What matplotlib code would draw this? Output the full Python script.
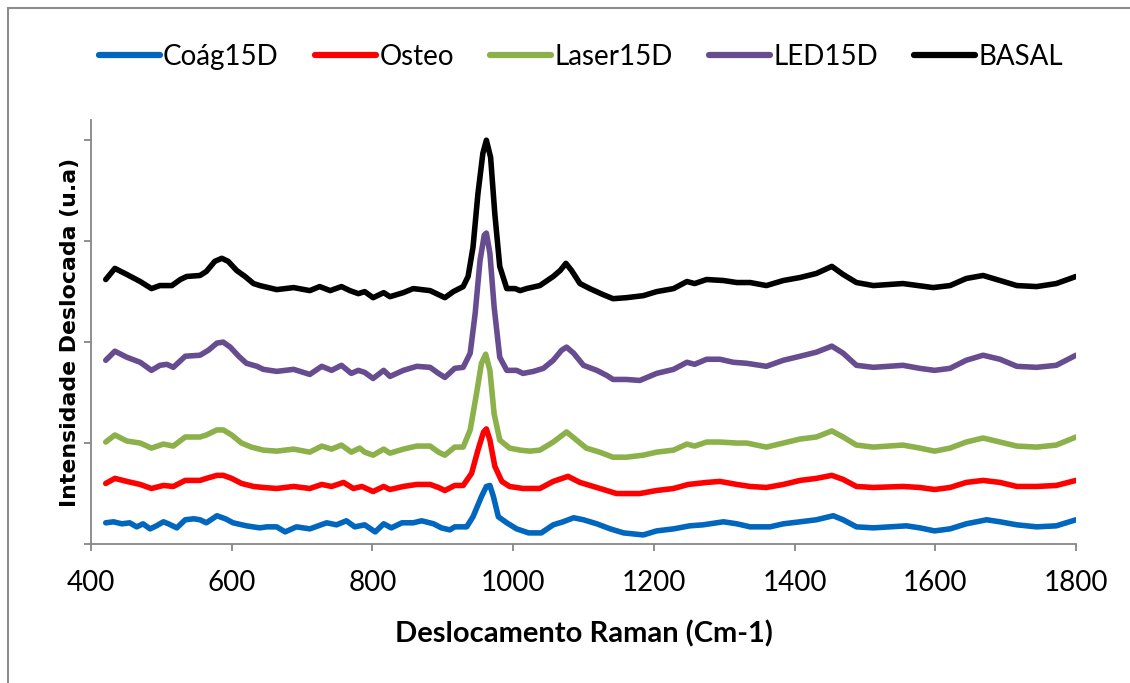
import matplotlib.pyplot as plt
from matplotlib.patches import Rectangle

# Raman spectra, (wavenumber, stacked intensity) pairs
coag15d = [(421, 0.21), (432, 0.22), (444, 0.20), (455, 0.21), (465, 0.17), (474, 0.20), (484, 0.15),
           (493, 0.18), (503, 0.22), (510, 0.20), (522, 0.16), (534, 0.24), (546, 0.25), (555, 0.24),
           (564, 0.21), (579, 0.28), (591, 0.25), (602, 0.21), (621, 0.18), (640, 0.16), (650, 0.17),
           (664, 0.17), (676, 0.12), (692, 0.17), (711, 0.15), (735, 0.21), (749, 0.19), (763, 0.23),
           (775, 0.17), (789, 0.19), (804, 0.12), (816, 0.20), (827, 0.16), (842, 0.21), (858, 0.21),
           (870, 0.23), (887, 0.20), (898, 0.16), (910, 0.14), (917, 0.17), (934, 0.17), (943, 0.27),
           (955, 0.47), (962, 0.57), (967, 0.58), (972, 0.47), (979, 0.27), (991, 0.21), (1005, 0.15),
           (1022, 0.11), (1040, 0.11), (1057, 0.19), (1071, 0.22), (1086, 0.26), (1100, 0.24),
           (1119, 0.20), (1138, 0.15), (1157, 0.11), (1185, 0.09), (1204, 0.13), (1228, 0.15),
           (1251, 0.18), (1270, 0.19), (1299, 0.22), (1318, 0.20), (1337, 0.17), (1365, 0.17),
           (1384, 0.20), (1408, 0.22), (1431, 0.24), (1455, 0.28), (1469, 0.24), (1488, 0.17),
           (1512, 0.16), (1559, 0.18), (1578, 0.16), (1599, 0.13), (1621, 0.15), (1644, 0.20),
           (1673, 0.24), (1692, 0.22), (1716, 0.19), (1744, 0.17), (1772, 0.18), (1800, 0.24)]

osteo = [(421, 0.60), (434, 0.65), (451, 0.62), (470, 0.59), (486, 0.55), (503, 0.58), (517, 0.57),
         (534, 0.63), (555, 0.63), (564, 0.65), (579, 0.68), (588, 0.68), (600, 0.65), (614, 0.60),
         (631, 0.57), (645, 0.56), (664, 0.55), (688, 0.57), (711, 0.55), (728, 0.59), (742, 0.57),
         (759, 0.61), (773, 0.55), (785, 0.57), (801, 0.52), (816, 0.57), (825, 0.54), (844, 0.57),
         (863, 0.59), (882, 0.59), (894, 0.56), (903, 0.53), (917, 0.58), (929, 0.58), (941, 0.70),
         (950, 0.93), (958, 1.11), (962, 1.14), (967, 1.03), (974, 0.77), (984, 0.62), (995, 0.57),
         (1014, 0.55), (1038, 0.55), (1057, 0.62), (1078, 0.67), (1095, 0.61), (1114, 0.57),
         (1133, 0.53), (1147, 0.50), (1180, 0.50), (1204, 0.53), (1228, 0.55), (1249, 0.59),
         (1275, 0.61), (1294, 0.62), (1318, 0.59), (1337, 0.57), (1360, 0.56), (1384, 0.59),
         (1408, 0.63), (1431, 0.65), (1453, 0.68), (1469, 0.64), (1488, 0.57), (1512, 0.56),
         (1554, 0.57), (1578, 0.56), (1599, 0.54), (1621, 0.56), (1644, 0.61), (1668, 0.63),
         (1692, 0.61), (1716, 0.57), (1744, 0.57), (1772, 0.58), (1800, 0.63)]

laser15d = [(421, 1.01), (434, 1.08), (451, 1.02), (470, 1.00), (486, 0.95), (503, 0.99), (517, 0.97),
            (534, 1.06), (555, 1.06), (564, 1.08), (579, 1.13), (588, 1.13), (600, 1.08), (614, 1.00),
            (628, 0.96), (645, 0.93), (664, 0.92), (688, 0.94), (711, 0.91), (728, 0.97), (742, 0.94),
            (756, 0.98), (770, 0.91), (782, 0.95), (789, 0.91), (801, 0.88), (816, 0.94), (825, 0.90),
            (844, 0.94), (863, 0.97), (882, 0.97), (894, 0.91), (903, 0.88), (917, 0.96), (929, 0.96),
            (939, 1.13), (948, 1.49), (955, 1.79), (961, 1.88), (967, 1.72), (973, 1.29), (981, 1.03),
            (995, 0.95), (1010, 0.93), (1024, 0.92), (1038, 0.93), (1057, 1.01), (1076, 1.11),
            (1090, 1.03), (1104, 0.95), (1123, 0.91), (1142, 0.86), (1161, 0.86), (1185, 0.88),
            (1204, 0.91), (1228, 0.93), (1247, 0.99), (1258, 0.97), (1275, 1.01), (1294, 1.01),
            (1318, 1.00), (1332, 1.00), (1360, 0.96), (1384, 1.00), (1408, 1.04), (1431, 1.06),
            (1453, 1.12), (1469, 1.06), (1488, 0.98), (1512, 0.96), (1554, 0.98), (1578, 0.95),
            (1599, 0.92), (1621, 0.95), (1644, 1.01), (1668, 1.05), (1692, 1.01), (1716, 0.97),
            (1744, 0.96), (1772, 0.98), (1800, 1.06)]

led15d = [(421, 1.82), (434, 1.91), (451, 1.85), (470, 1.80), (486, 1.72), (498, 1.77), (508, 1.78),
          (517, 1.75), (534, 1.86), (555, 1.87), (567, 1.92), (579, 1.99), (588, 2.00), (598, 1.95),
          (610, 1.86), (621, 1.79), (636, 1.76), (645, 1.73), (664, 1.71), (688, 1.73), (711, 1.68),
          (728, 1.76), (742, 1.72), (756, 1.77), (770, 1.69), (780, 1.72), (789, 1.70), (801, 1.64),
          (816, 1.72), (825, 1.66), (844, 1.72), (863, 1.76), (882, 1.75), (894, 1.69), (903, 1.65),
          (917, 1.74), (929, 1.75), (939, 1.89), (946, 2.28), (953, 2.81), (959, 3.06), (962, 3.08),
          (967, 2.88), (973, 2.35), (981, 1.85), (991, 1.72), (1005, 1.72), (1014, 1.69), (1029, 1.71),
          (1043, 1.74), (1057, 1.82), (1069, 1.92), (1076, 1.95), (1086, 1.89), (1100, 1.77),
          (1119, 1.72), (1133, 1.67), (1142, 1.63), (1161, 1.63), (1180, 1.62), (1204, 1.69),
          (1228, 1.73), (1247, 1.80), (1258, 1.78), (1275, 1.83), (1294, 1.83), (1313, 1.80),
          (1332, 1.79), (1360, 1.76), (1384, 1.82), (1408, 1.86), (1431, 1.90), (1453, 1.96),
          (1469, 1.89), (1488, 1.77), (1512, 1.75), (1554, 1.77), (1578, 1.74), (1599, 1.72),
          (1621, 1.74), (1644, 1.82), (1668, 1.87), (1692, 1.83), (1716, 1.76), (1744, 1.75),
          (1772, 1.77), (1800, 1.87)]

basal = [(421, 2.62), (434, 2.73), (451, 2.67), (470, 2.60), (486, 2.53), (498, 2.56), (515, 2.56),
         (527, 2.62), (536, 2.65), (555, 2.66), (564, 2.70), (576, 2.80), (586, 2.83), (595, 2.80),
         (607, 2.71), (619, 2.65), (631, 2.58), (640, 2.56), (664, 2.52), (688, 2.54), (711, 2.51),
         (725, 2.55), (740, 2.51), (756, 2.55), (768, 2.51), (780, 2.48), (789, 2.50), (801, 2.44),
         (816, 2.49), (825, 2.45), (844, 2.49), (858, 2.53), (882, 2.51), (894, 2.47), (903, 2.44),
         (915, 2.50), (929, 2.55), (936, 2.65), (943, 2.94), (950, 3.47), (957, 3.87), (962, 4.00),
         (968, 3.83), (974, 3.27), (981, 2.75), (991, 2.53), (1003, 2.53), (1010, 2.51), (1019, 2.53),
         (1038, 2.56), (1057, 2.65), (1067, 2.71), (1075, 2.78), (1083, 2.71), (1095, 2.58),
         (1109, 2.53), (1128, 2.47), (1142, 2.43), (1161, 2.44), (1185, 2.46), (1204, 2.50),
         (1228, 2.53), (1247, 2.60), (1258, 2.58), (1275, 2.62), (1299, 2.61), (1318, 2.59),
         (1337, 2.59), (1360, 2.56), (1384, 2.61), (1408, 2.64), (1431, 2.68), (1453, 2.75),
         (1469, 2.67), (1488, 2.59), (1512, 2.56), (1554, 2.58), (1597, 2.54), (1621, 2.56),
         (1644, 2.63), (1668, 2.66), (1692, 2.61), (1716, 2.56), (1744, 2.55), (1772, 2.58),
         (1800, 2.65)]

series_names = ['Coág15D', 'Osteo', 'Laser15D', 'LED15D', 'BASAL']
series_data = [coag15d, osteo, laser15d, led15d, basal]
colors = ['#0066BE', '#FF0000', '#8CB04A', '#674C8F', '#000000']

fig = plt.figure(figsize=(11.3, 6.83), dpi=100)
ax = fig.add_axes([0.0805, 0.2035, 0.8717, 0.6208])

for name, data, color in zip(series_names, series_data, colors):
    xs, ys = zip(*data)
    ax.plot(xs, ys, color=color, lw=4.0, label=name,
            solid_joinstyle='round', solid_capstyle='round')

ax.set_xlim(400, 1800)
ax.set_ylim(0, 4.2)
ax.set_xticks(range(400, 1801, 200))
ax.set_yticks([0, 1, 2, 3, 4])
ax.set_yticklabels([])

for side in ['top', 'right']:
    ax.spines[side].set_visible(False)
for side in ['left', 'bottom']:
    ax.spines[side].set_color('#868686')
    ax.spines[side].set_linewidth(1.3)
ax.tick_params(axis='both', direction='out', length=5, width=1.3, color='#868686')
ax.tick_params(axis='x', labelsize=20, pad=14)
for lbl in ax.get_xticklabels():
    lbl.set_family('Lato')

fig.text(584 / 1130, 1 - 634 / 683, 'Deslocamento Raman (Cm-1)', ha='center', va='center',
         fontsize=21, fontweight='bold', family='Lato')
fig.text(70 / 1130, 1 - 332 / 683, 'Intensidade Deslocada (u.a)', ha='center', va='center',
         rotation=90, fontsize=15.8, fontweight='bold', family='DejaVu Sans')

leg = fig.legend(loc='center', bbox_to_anchor=(581 / 1130, 1 - 57 / 683), ncol=5, frameon=False,
                 prop={'family': 'Lato', 'size': 20}, handlelength=2.2, handletextpad=0.12,
                 columnspacing=1.3)
for line in leg.get_lines():
    line.set_linewidth(4.5)

# outer chart frame (only top and left edges fall inside the picture)
fig.patches.append(Rectangle((8 / 1130, -0.1), 1.2, 1.1 - 8 / 683, transform=fig.transFigure,
                             fill=False, edgecolor='#8C8C8C', lw=1.5))

fig.savefig('out.png', dpi=100)
